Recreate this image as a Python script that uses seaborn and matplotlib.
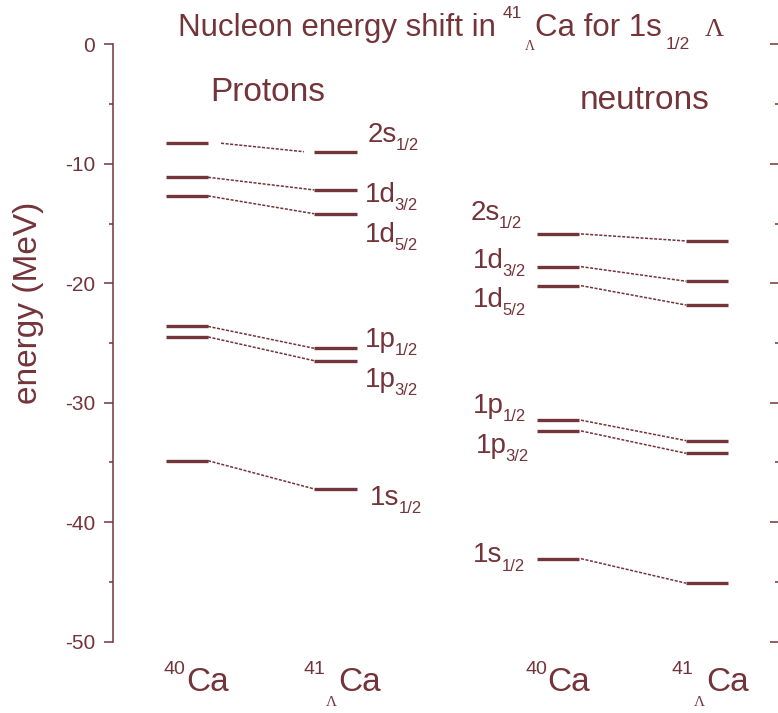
import pandas as pd
import seaborn as sns
import matplotlib.pyplot as plt

# level energies (MeV)
orbitals = ['2s', '1d', '1d', '1p', '1p', '1s']
subs = ['1/2', '3/2', '5/2', '1/2', '3/2', '1/2']
proton_40 = [-8.28, -11.13, -12.69, -23.61, -24.49, -34.85]
proton_41 = [-8.99, -12.19, -14.18, -25.44, -26.48, -37.21]
neutron_40 = [-15.87, -18.61, -20.20, -31.46, -32.36, -43.05]
neutron_41 = [-16.46, -19.83, -21.82, -33.17, -34.23, -45.10]

# label baselines (MeV) and left edges (x axis runs in pixel-like units)
proton_lab_y = [-8.14, -13.17, -16.53, -25.34, -28.69, -38.59]
neutron_lab_y = [-14.68, -18.71, -21.98, -30.87, -34.23, -43.37]
proton_lab_x = [368, 365, 365, 365, 365, 370]
neutron_lab_x = [471, 473, 473, 473, 476, 473]

C = '#73343A'

sns.set_style('ticks')
plt.rcParams['font.family'] = ['Liberation Sans', 'DejaVu Sans']
plt.rcParams['axes.unicode_minus'] = False

# column extents
cols = {'p40': (166, 208), 'p41': (314, 357), 'n40': (537, 579), 'n41': (686, 728)}

lev_rows = []
con_rows = []
seg = 0
for left, right, E0, E1 in [('p40', 'p41', proton_40, proton_41),
                            ('n40', 'n41', neutron_40, neutron_41)]:
    for i in range(len(E0)):
        for key, E in [(left, E0[i]), (right, E1[i])]:
            x0, x1 = cols[key]
            lev_rows += [(x0, E, seg), (x1, E, seg)]
            seg += 1
        a = cols[left][1]
        b = cols[right][0]
        if left == 'p40' and i == 0:
            a, b = a + 13, b - 10
        if left == 'n40':
            a = a + 2
        con_rows += [(a, E0[i], seg), (b, E1[i], seg)]
        seg += 1

lev = pd.DataFrame(lev_rows, columns=['x', 'E', 'seg'])
con = pd.DataFrame(con_rows, columns=['x', 'E', 'seg'])

W, H = 778, 713
fig = plt.figure(figsize=(W / 100, H / 100), dpi=100)
ax = fig.add_axes([113 / W, (H - 641.7) / H, (780 - 113) / W, (641.7 - 44.3) / H])


def px(x, y):
    return x / W, 1 - y / H


sns.lineplot(data=con, x='x', y='E', units='seg', estimator=None, sort=False,
             color=C, lw=1.1, linestyle=(0, (2, 1)), ax=ax, legend=False)
sns.lineplot(data=lev, x='x', y='E', units='seg', estimator=None, sort=False,
             color=C, lw=2.4, solid_capstyle='butt', ax=ax, legend=False)

ax.set_xlim(113, 780)
ax.set_ylim(-50, 0)
ax.set_xticks([])
ax.set_xlabel('')
ax.set_ylabel('')
ax.set_yticks([0, -10, -20, -30, -40, -50])
ax.set_yticks([-5, -15, -25, -35, -45], minor=True)
ax.tick_params(axis='y', which='major', direction='out', length=6.7, width=1.1,
               color=C, labelcolor=C, labelsize=15, pad=6)
ax.tick_params(axis='y', which='minor', direction='out', length=3, width=1.1, color=C)
for s in ['top', 'bottom', 'right']:
    ax.spines[s].set_visible(False)
ax.spines['left'].set_color(C)
ax.spines['left'].set_linewidth(1.1)

ax2 = ax.twinx()
ax2.set_ylim(-50, 0)
ax2.set_yticks([0, -10, -20, -30, -40, -50])
ax2.set_yticks([-5, -15, -25, -35, -45], minor=True)
ax2.tick_params(axis='y', which='major', direction='in', length=7, width=1.1,
                color=C, labelright=False)
ax2.tick_params(axis='y', which='minor', direction='in', length=3.5, width=1.1, color=C)
for s in ['top', 'bottom', 'left']:
    ax2.spines[s].set_visible(False)
ax2.spines['right'].set_color(C)

# level labels with dropped subscripts
for xs, ys in [(proton_lab_x, proton_lab_y), (neutron_lab_x, neutron_lab_y)]:
    for i in range(len(orbitals)):
        t = ax.text(xs[i], ys[i], orbitals[i], color=C, fontsize=20,
                    ha='left', va='baseline')
        ax.annotate(subs[i], xy=(1, 0), xycoords=t, xytext=(-0.8, -1.5),
                    textcoords='offset points', color=C, fontsize=12,
                    ha='left', va='baseline')

ax.text(210, -4.78, 'Protons', color=C, fontsize=24, ha='left', va='baseline')
ax.text(580, -5.45, 'neutrons', color=C, fontsize=24, ha='left', va='baseline')

# nucleus labels under the columns
for x0, mass, hyper in [(165, '40', False), (304, '41', True),
                        (526, '40', False), (672, '41', True)]:
    fig.text(*px(x0 - 1, 674), mass, color=C, fontsize=14, ha='left', va='baseline')
    if hyper:
        fig.text(*px(x0 + 22, 706), 'Λ', color=C, fontsize=11, ha='left',
                 va='baseline', family='Liberation Serif')
        fig.text(*px(x0 + 34, 691), 'Ca', color=C, fontsize=24, ha='left', va='baseline')
    else:
        fig.text(*px(x0 + 21, 691), 'Ca', color=C, fontsize=24, ha='left', va='baseline')

# title
fig.text(*px(178, 36), 'Nucleon energy shift in', color=C, fontsize=22.5,
         ha='left', va='baseline')
fig.text(*px(503, 18), '41', color=C, fontsize=12.5, ha='left', va='baseline')
fig.text(*px(525, 50), 'Λ', color=C, fontsize=10, ha='left', va='baseline',
         family='Liberation Serif')
fig.text(*px(535, 36), 'Ca for 1s', color=C, fontsize=22.5, ha='left', va='baseline')
fig.text(*px(666, 49), '1/2', color=C, fontsize=12.5, ha='left', va='baseline')
fig.text(*px(705, 36), 'Λ', color=C, fontsize=19, ha='left', va='baseline',
         family='Liberation Serif')

fig.text(*px(29, 303), 'energy (MeV)', color=C, fontsize=24,
         rotation=90, ha='center', va='center')

fig.savefig('out.png', dpi=100)
